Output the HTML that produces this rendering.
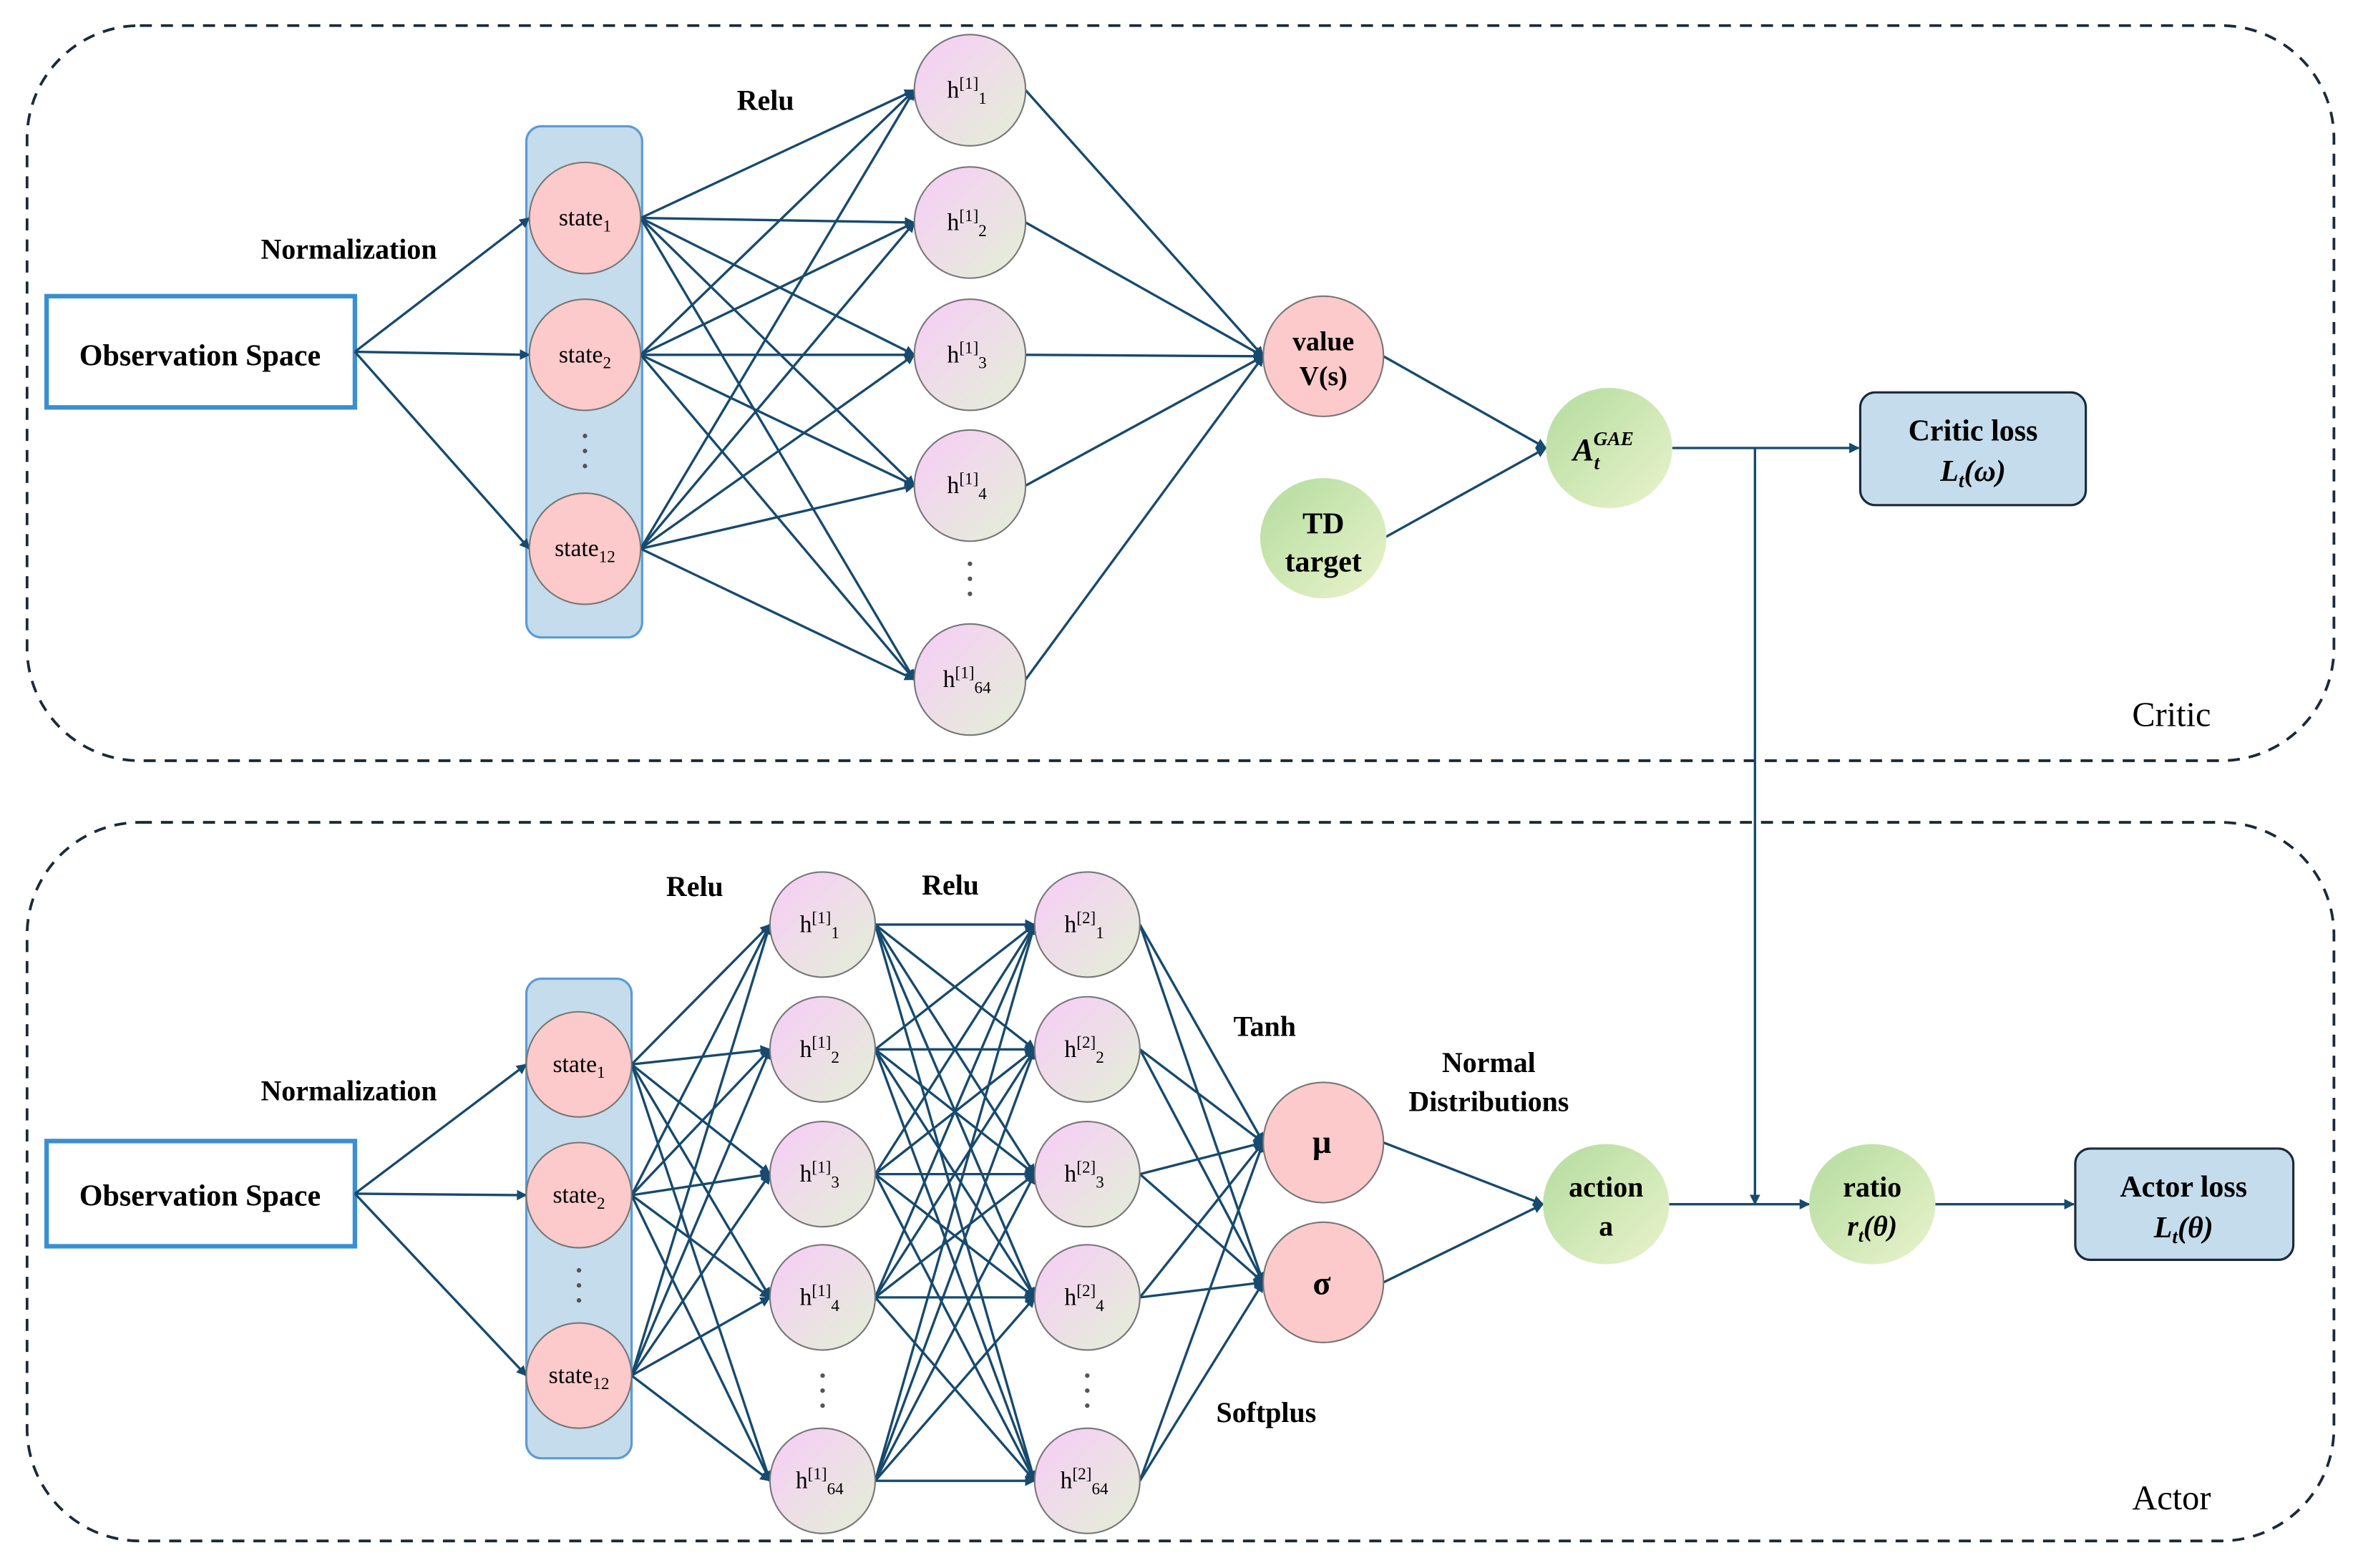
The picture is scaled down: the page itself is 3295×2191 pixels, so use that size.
<!DOCTYPE html>
<html><head><meta charset="utf-8"><style>
html,body{margin:0;padding:0;background:#fff;}
svg{display:block;}
text{font-family:"Liberation Serif",serif;fill:#000;}
.b{font-weight:bold;}
</style></head><body>
<svg id="s" width="3295" height="2191" viewBox="0 0 1568 1043" preserveAspectRatio="none" xmlns="http://www.w3.org/2000/svg">
<defs>
<marker id="ar" viewBox="0 0 10 10" refX="9" refY="5" markerWidth="7" markerHeight="7" orient="auto" markerUnits="userSpaceOnUse"><path d="M0,0 L10,5 L0,10 z" fill="#174a6e"/></marker>
<linearGradient id="gh" x1="0" y1="0" x2="1" y2="1"><stop offset="0" stop-color="#f8ccf8"/><stop offset="1" stop-color="#e2f0d6"/></linearGradient>
<linearGradient id="gg" x1="0" y1="0" x2="1" y2="1"><stop offset="0" stop-color="#b3dc9e"/><stop offset="1" stop-color="#eaf3cc"/></linearGradient>
</defs>
<rect x="18" y="17" width="1534" height="489" rx="75" fill="none" stroke="#1a2a3a" stroke-width="1.8" stroke-dasharray="8,6"/>
<rect x="18" y="547" width="1534" height="478" rx="75" fill="none" stroke="#1a2a3a" stroke-width="1.8" stroke-dasharray="8,6"/>
<rect x="31" y="197" width="205" height="74" fill="#fff" stroke="#3a8fd0" stroke-width="3"/>
<rect x="31" y="759" width="205" height="70" fill="#fff" stroke="#3a8fd0" stroke-width="3"/>
<rect x="350" y="84" width="77" height="340" rx="10" fill="#c5dcec" stroke="#5b9bd5" stroke-width="1.5"/>
<rect x="350" y="651" width="70" height="319" rx="10" fill="#c5dcec" stroke="#5b9bd5" stroke-width="1.5"/>
<rect x="1237" y="261" width="150" height="75" rx="10" fill="#c5dcec" stroke="#1a2a3a" stroke-width="1.5"/>
<rect x="1380" y="764" width="145" height="74" rx="10" fill="#c5dcec" stroke="#1a2a3a" stroke-width="1.5"/>
<g id="lines" stroke="#174a6e" stroke-width="1.6" fill="none"></g>
<g id="nodes"></g>
<g id="txt">
<text x="133" y="243" font-size="20" text-anchor="middle" class="b">Observation Space</text>
<text x="133" y="802" font-size="20" text-anchor="middle" class="b">Observation Space</text>
<text x="232" y="172" font-size="19" text-anchor="middle" class="b">Normalization</text>
<text x="232" y="732" font-size="19" text-anchor="middle" class="b">Normalization</text>
<text x="509" y="73" font-size="19" text-anchor="middle" class="b">Relu</text>
<text x="462" y="596" font-size="19" text-anchor="middle" class="b">Relu</text>
<text x="632" y="595" font-size="19" text-anchor="middle" class="b">Relu</text>
<text x="841" y="689" font-size="19" text-anchor="middle" class="b">Tanh</text>
<text x="990" y="713" font-size="19" text-anchor="middle" class="b">Normal</text>
<text x="990" y="739" font-size="19" text-anchor="middle" class="b">Distributions</text>
<text x="842" y="946" font-size="19" text-anchor="middle" class="b">Softplus</text>
<text x="1444" y="483" font-size="23" text-anchor="middle">Critic</text>
<text x="1444" y="1004" font-size="23" text-anchor="middle">Actor</text>
<text x="1312" y="293" font-size="20" text-anchor="middle" class="b">Critic loss</text>
<text x="1312" y="320" font-size="20" text-anchor="middle" class="b" font-style="italic">L<tspan font-size="13" dy="4">t</tspan><tspan dy="-4">(ω)</tspan></text>
<text x="1452" y="796" font-size="20" text-anchor="middle" class="b">Actor loss</text>
<text x="1452" y="823" font-size="20" text-anchor="middle" class="b" font-style="italic">L<tspan font-size="13" dy="4">t</tspan><tspan dy="-4">(θ)</tspan></text>
<text x="880" y="233" font-size="18" text-anchor="middle" class="b">value</text>
<text x="880" y="256" font-size="18" text-anchor="middle" class="b">V(s)</text>
<text x="880" y="355" font-size="20" text-anchor="middle" class="b">TD</text>
<text x="880" y="380" font-size="20" text-anchor="middle" class="b">target</text>
<text x="1046" y="306" font-size="21" class="b" font-style="italic">A<tspan font-size="13" dy="6">t</tspan><tspan font-size="13" dy="-16" dx="-4">GAE</tspan></text>
<text x="879" y="767" font-size="22" text-anchor="middle" class="b">μ</text>
<text x="879" y="861" font-size="22" text-anchor="middle" class="b">σ</text>
<text x="1068" y="796" font-size="19" text-anchor="middle" class="b">action</text>
<text x="1068" y="822" font-size="19" text-anchor="middle" class="b">a</text>
<text x="1245" y="796" font-size="19" text-anchor="middle" class="b">ratio</text>
<text x="1245" y="822" font-size="19" text-anchor="middle" class="b" font-style="italic">r<tspan font-size="12" dy="4">t</tspan><tspan dy="-4">(θ)</tspan></text>
<text x="389" y="150" font-size="16" text-anchor="middle">state<tspan font-size="11" dy="4">1</tspan></text>
<text x="389" y="241" font-size="16" text-anchor="middle">state<tspan font-size="11" dy="4">2</tspan></text>
<text x="389" y="370" font-size="16" text-anchor="middle">state<tspan font-size="11" dy="4">12</tspan></text>
<text x="385" y="713" font-size="16" text-anchor="middle">state<tspan font-size="11" dy="4">1</tspan></text>
<text x="385" y="800" font-size="16" text-anchor="middle">state<tspan font-size="11" dy="4">2</tspan></text>
<text x="385" y="920" font-size="16" text-anchor="middle">state<tspan font-size="11" dy="4">12</tspan></text>
<text x="643" y="65" font-size="16" text-anchor="middle">h<tspan font-size="11" dy="-6">[1]</tspan><tspan font-size="11" dy="10">1</tspan></text>
<text x="643" y="153" font-size="16" text-anchor="middle">h<tspan font-size="11" dy="-6">[1]</tspan><tspan font-size="11" dy="10">2</tspan></text>
<text x="643" y="241" font-size="16" text-anchor="middle">h<tspan font-size="11" dy="-6">[1]</tspan><tspan font-size="11" dy="10">3</tspan></text>
<text x="643" y="328" font-size="16" text-anchor="middle">h<tspan font-size="11" dy="-6">[1]</tspan><tspan font-size="11" dy="10">4</tspan></text>
<text x="643" y="457" font-size="16" text-anchor="middle">h<tspan font-size="11" dy="-6">[1]</tspan><tspan font-size="11" dy="10">64</tspan></text>
<text x="545" y="620" font-size="16" text-anchor="middle">h<tspan font-size="11" dy="-6">[1]</tspan><tspan font-size="11" dy="10">1</tspan></text>
<text x="545" y="703" font-size="16" text-anchor="middle">h<tspan font-size="11" dy="-6">[1]</tspan><tspan font-size="11" dy="10">2</tspan></text>
<text x="545" y="786" font-size="16" text-anchor="middle">h<tspan font-size="11" dy="-6">[1]</tspan><tspan font-size="11" dy="10">3</tspan></text>
<text x="545" y="868" font-size="16" text-anchor="middle">h<tspan font-size="11" dy="-6">[1]</tspan><tspan font-size="11" dy="10">4</tspan></text>
<text x="545" y="990" font-size="16" text-anchor="middle">h<tspan font-size="11" dy="-6">[1]</tspan><tspan font-size="11" dy="10">64</tspan></text>
<text x="721" y="620" font-size="16" text-anchor="middle">h<tspan font-size="11" dy="-6">[2]</tspan><tspan font-size="11" dy="10">1</tspan></text>
<text x="721" y="703" font-size="16" text-anchor="middle">h<tspan font-size="11" dy="-6">[2]</tspan><tspan font-size="11" dy="10">2</tspan></text>
<text x="721" y="786" font-size="16" text-anchor="middle">h<tspan font-size="11" dy="-6">[2]</tspan><tspan font-size="11" dy="10">3</tspan></text>
<text x="721" y="868" font-size="16" text-anchor="middle">h<tspan font-size="11" dy="-6">[2]</tspan><tspan font-size="11" dy="10">4</tspan></text>
<text x="721" y="990" font-size="16" text-anchor="middle">h<tspan font-size="11" dy="-6">[2]</tspan><tspan font-size="11" dy="10">64</tspan></text>
</g>
</svg>
<script>
var NS="http://www.w3.org/2000/svg";
var L=document.getElementById('lines'),N=document.getElementById('nodes');
function el(p,t,a){var e=document.createElementNS(NS,t);for(var k in a)e.setAttribute(k,a[k]);p.appendChild(e);return e;}
function node(x,y,r,ry,f){el(N,'ellipse',{cx:x,cy:y,rx:r,ry:ry,fill:f,stroke:f=='url(#gg)'?'none':'#777','stroke-width':1});}
function arr(x1,y1,r1,x2,y2,r2){el(L,'line',{x1:x1+r1,y1:y1,x2:x2-r2,y2:y2,'marker-end':'url(#ar)'});}
function dots(x,y){for(var i=0;i<3;i++)el(N,'circle',{cx:x,cy:y+i*10-10,r:1.5,fill:'#555'});}
// critic
var cs=[[389,145],[389,236],[389,365]], ch=[60,148,236,323,452];
cs.forEach(function(s){arr(236,234,0,s[0],s[1],37);ch.forEach(function(h){arr(s[0],s[1],37,645,h,37);});});
ch.forEach(function(h){arr(645,h,37,880,237,40);});
arr(880,237,40,1070,298,42);arr(880,358,40,1070,298,42);
el(L,'line',{x1:1112,y1:298,x2:1236,y2:298,'marker-end':'url(#ar)'});
el(L,'line',{x1:1167,y1:298,x2:1167,y2:801,'marker-end':'url(#ar)'});
cs.forEach(function(s){node(s[0],s[1],37,37,'#fccaca');});dots(389,300);
ch.forEach(function(h){node(645,h,37,37,'url(#gh)');});dots(645,385);
node(880,237,40,40,'#fccaca');node(880,358,42,40,'url(#gg)');node(1070,298,42,40,'url(#gg)');
// actor
var as=[[385,708],[385,795],[385,915]], hy=[615,698,781,863,985];
as.forEach(function(s){arr(236,794,0,s[0],s[1],35);hy.forEach(function(h){arr(s[0],s[1],35,547,h,35);});});
hy.forEach(function(a){hy.forEach(function(b){arr(547,a,35,723,b,35);});});
hy.forEach(function(h){arr(723,h,35,880,760,40);arr(723,h,35,880,853,40);});
arr(880,760,40,1068,801,42);arr(880,853,40,1068,801,42);
el(L,'line',{x1:1110,y1:801,x2:1203,y2:801,'marker-end':'url(#ar)'});
el(L,'line',{x1:1287,y1:801,x2:1379,y2:801,'marker-end':'url(#ar)'});
as.forEach(function(s){node(s[0],s[1],35,35,'#fccaca');});dots(385,855);
hy.forEach(function(h){node(547,h,35,35,'url(#gh)');node(723,h,35,35,'url(#gh)');});dots(547,925);dots(723,925);
node(880,760,40,40,'#fccaca');node(880,853,40,40,'#fccaca');node(1068,801,42,40,'url(#gg)');node(1245,801,42,40,'url(#gg)');
</script>
</body></html>
